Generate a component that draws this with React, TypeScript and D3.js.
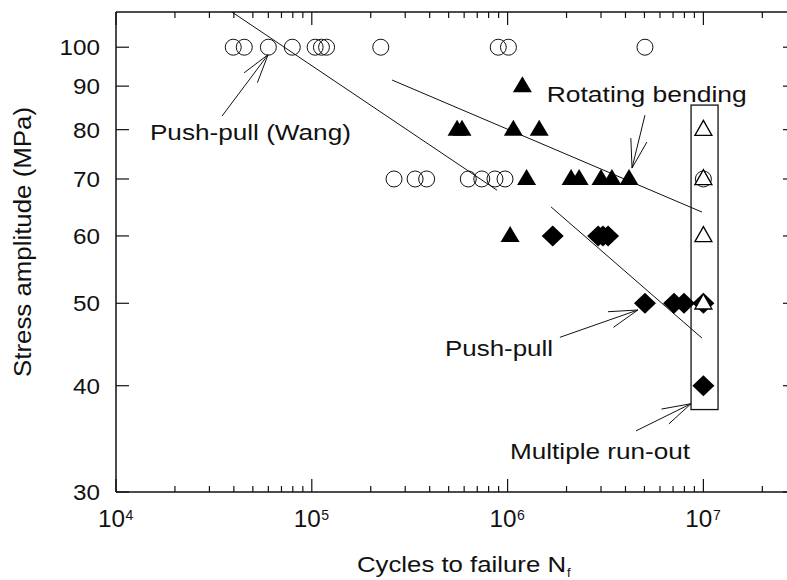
import React from "react";
import * as d3 from "d3";

// ---- Data ----
const wangCircles100: number[] = [3.97e4, 4.52e4, 6.0e4, 7.95e4, 1.04e5, 1.12e5, 1.19e5, 2.25e5, 8.96e5, 1.01e6, 5.03e6];
const wangCircles70: number[] = [2.63e5, 3.37e5, 3.86e5, 6.3e5, 7.38e5, 8.62e5, 9.7e5];
const runoutCircles70: number[] = [1e7];

const rbTriangles: [number, number][] = [
  [1.19e6, 90],
  [5.52e5, 80], [5.85e5, 80], [1.07e6, 80], [1.45e6, 80],
  [1.25e6, 70], [2.11e6, 70], [2.32e6, 70], [3.0e6, 70], [3.41e6, 70], [4.17e6, 70],
  [1.03e6, 60],
];
const rbRunout: [number, number][] = [[1e7, 80], [1e7, 70], [1e7, 60], [1e7, 50]];

const ppDiamonds: [number, number][] = [
  [1.7e6, 60], [2.9e6, 60], [3.07e6, 60], [3.26e6, 60],
  [5.03e6, 50], [7.08e6, 50], [7.96e6, 50], [1e7, 50],
  [1e7, 40],
];

// fitted lines [N, S] endpoints
const wangLine: [number, number][] = [[3.91e4, 110], [8.83e5, 67.9]];
const rbLine: [number, number][] = [[2.57e5, 91.5], [9.84e6, 64.0]];
const ppLine: [number, number][] = [[1.667e6, 64.9], [9.84e6, 45.5]];

// run-out box [N0, N1, S0, S1]
const runoutBox = { n0: 8.65e6, n1: 1.188e7, s0: 37.5, s1: 85.5 };

// annotations: label, label anchor (N,S), width, arrow tail, arrow tip
const annotations = [
  { label: "Push-pull (Wang)", at: [1.49e4, 77.8], width: 201, tail: [3.48e4, 83.0], tip: [5.98e4, 98.0] },
  { label: "Rotating bending", at: [1.584e6, 86.3], width: 200, tail: [5.03e6, 83.2], tip: [4.32e6, 72.1] },
  { label: "Push-pull", at: [4.79e5, 43.3], width: 108, tail: [1.85e6, 45.6], tip: [4.63e6, 49.1] },
  { label: "Multiple run-out", at: [1.029e6, 32.8], width: 180, tail: [4.53e6, 35.4], tip: [8.65e6, 38.1] },
];

const yTicks = [30, 40, 50, 60, 70, 80, 90, 100];
const xMajor = [4, 5, 6, 7];

// ---- Layout ----
const W = 787, H = 580;
const L = 116, R = 796, T = 12, B = 492;
const FONT = "'Liberation Sans', Arial, sans-serif";

export default function App() {
  const x = d3.scaleLog().domain([1e4, Math.pow(10, 7.473)]).range([L, R]);
  const y = d3.scaleLog().domain([30, 110]).range([B, T]);

  const xMinor: number[] = [];
  for (let e = 4; e <= 7; e++) for (let m = 2; m <= 9; m++) {
    const v = m * Math.pow(10, e);
    if (v < x.domain()[1]) xMinor.push(v);
  }

  const line = d3.line<[number, number]>().x(d => x(d[0])).y(d => y(d[1]));

  const tri = (cx: number, cy: number, w = 19, h = 16) =>
    `M${cx},${cy - h * 0.62}L${cx + w / 2},${cy + h * 0.38}L${cx - w / 2},${cy + h * 0.38}Z`;
  const dia = (cx: number, cy: number, rx = 11, ry = 10.5) =>
    `M${cx},${cy - ry}L${cx + rx},${cy}L${cx},${cy + ry}L${cx - rx},${cy}Z`;

  const arrow = (tail: number[], tip: number[]) => {
    const x0 = x(tail[0]), y0 = y(tail[1]), x1 = x(tip[0]), y1 = y(tip[1]);
    const ang = Math.atan2(y0 - y1, x0 - x1);
    const len = 30, sp = (16 * Math.PI) / 180;
    const a1 = [x1 + len * Math.cos(ang + sp), y1 + len * Math.sin(ang + sp)];
    const a2 = [x1 + len * Math.cos(ang - sp), y1 + len * Math.sin(ang - sp)];
    return `M${x0},${y0}L${x1},${y1}M${a1[0]},${a1[1]}L${x1},${y1}L${a2[0]},${a2[1]}`;
  };

  return (
    <div style={{ position: "absolute", left: 0, top: 0 }}>
      <svg width={W} height={H} style={{ display: "block", background: "#fff" }} fontFamily={FONT}>
        {/* frame */}
        <g stroke="#111" strokeWidth={1.5} fill="none">
          <line x1={L} y1={T} x2={L} y2={B} />
          <line x1={L} y1={B} x2={R} y2={B} />
          <line x1={L} y1={T} x2={R} y2={T} />
          <line x1={R} y1={T} x2={R} y2={B} />
        </g>
        {/* x ticks */}
        <g stroke="#111" strokeWidth={1.2}>
          {xMajor.map(e => {
            const px = x(Math.pow(10, e));
            return (
              <g key={"M" + e}>
                <line x1={px} y1={B} x2={px} y2={B - 13} />
                <line x1={px} y1={T} x2={px} y2={T + 13} />
              </g>
            );
          })}
          {xMinor.map(v => {
            const px = x(v);
            return (
              <g key={"m" + v}>
                <line x1={px} y1={B} x2={px} y2={B - 6} />
                <line x1={px} y1={T} x2={px} y2={T + 6} />
              </g>
            );
          })}
          {yTicks.map(v => (
            <g key={"y" + v}>
              <line x1={L} y1={y(v)} x2={L + 13} y2={y(v)} />
              <line x1={R} y1={y(v)} x2={R - 13} y2={y(v)} />
            </g>
          ))}
        </g>
        {/* y tick labels */}
        {yTicks.map(v => (
          <text key={"yl" + v} x={100} y={y(v) + 8} fontSize={22} textAnchor="end"
            textLength={String(v).length * 13.5} lengthAdjust="spacingAndGlyphs" fill="#111">
            {v}
          </text>
        ))}
        {/* x tick labels */}
        {xMajor.map(e => {
          const px = x(Math.pow(10, e));
          return (
            <g key={"xl" + e} fill="#111">
              <text x={px - 18} y={527} fontSize={23} textLength={27} lengthAdjust="spacingAndGlyphs">10</text>
              <text x={px + 9.5} y={520} fontSize={14}>{e}</text>
            </g>
          );
        })}
        {/* axis titles */}
        <text transform={`translate(31,242) rotate(-90)`} fontSize={23} textAnchor="middle"
          textLength={270} lengthAdjust="spacingAndGlyphs" fill="#111">Stress amplitude (MPa)</text>
        <text x={357} y={572} fontSize={22} textLength={209} lengthAdjust="spacingAndGlyphs" fill="#111">
          Cycles to failure N
        </text>
        <text x={567} y={577} fontSize={13} fill="#111">f</text>

        {/* fit lines */}
        <g stroke="#111" strokeWidth={1} fill="none">
          <path d={line(wangLine) || ""} />
          <path d={line(rbLine) || ""} />
          <path d={line(ppLine) || ""} />
        </g>

        {/* run-out box */}
        <rect x={x(runoutBox.n0)} y={y(runoutBox.s1)} width={x(runoutBox.n1) - x(runoutBox.n0)}
          height={y(runoutBox.s0) - y(runoutBox.s1)} fill="none" stroke="#111" strokeWidth={1.3} />

        {/* markers */}
        <g fill="none" stroke="#111" strokeWidth={1}>
          {wangCircles100.map((n, i) => <circle key={"c1" + i} cx={x(n)} cy={y(100)} r={8} />)}
          {wangCircles70.map((n, i) => <circle key={"c7" + i} cx={x(n)} cy={y(70)} r={8} />)}
          {runoutCircles70.map((n, i) => <circle key={"cr" + i} cx={x(n)} cy={y(70)} r={8} />)}
        </g>
        <g fill="#000">
          {rbTriangles.map((d, i) => <path key={"t" + i} d={tri(x(d[0]), y(d[1]))} />)}
          {ppDiamonds.map((d, i) => <path key={"d" + i} d={dia(x(d[0]), y(d[1]))} />)}
        </g>
        <g fill="#fff" stroke="#000" strokeWidth={1.3}>
          {rbRunout.map((d, i) => <path key={"to" + i} d={tri(x(d[0]), y(d[1]), 17, 15)} />)}
        </g>

        {/* annotations */}
        {annotations.map((a, i) => (
          <g key={"a" + i}>
            <path d={arrow(a.tail, a.tip)} stroke="#111" strokeWidth={1} fill="none" />
            <text x={x(a.at[0])} y={y(a.at[1])} fontSize={22} textLength={a.width}
              lengthAdjust="spacingAndGlyphs" fill="#111">{a.label}</text>
          </g>
        ))}
      </svg>
    </div>
  );
}
